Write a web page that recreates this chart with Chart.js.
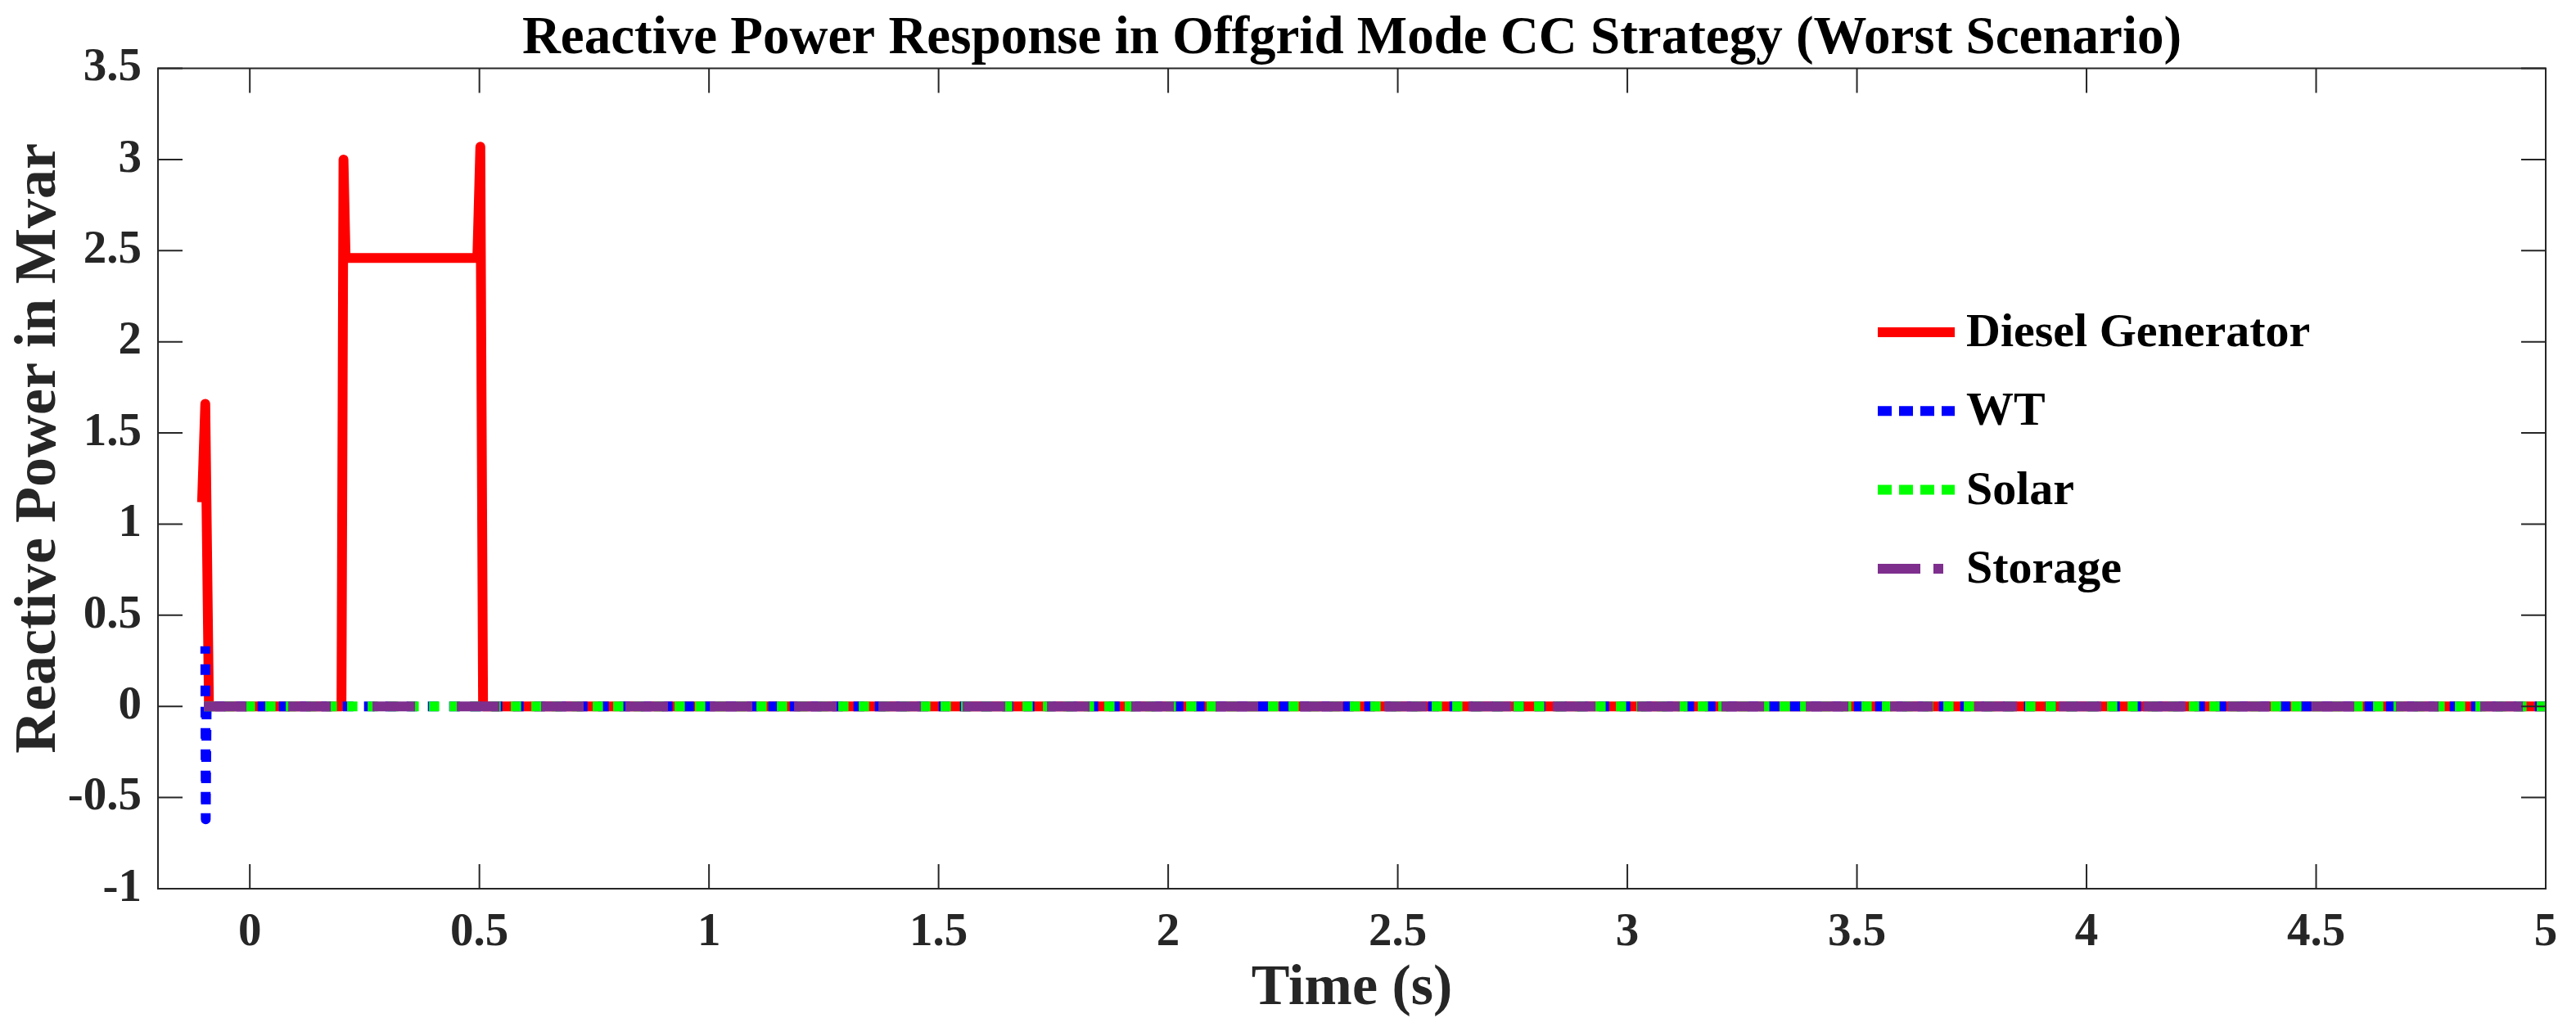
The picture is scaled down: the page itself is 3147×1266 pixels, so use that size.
<!DOCTYPE html>
<html>
<head>
<meta charset="utf-8">
<script src="https://cdn.jsdelivr.net/npm/chart.js@4.4.0/dist/chart.umd.min.js"></script>
<style>
  html, body { margin: 0; padding: 0; background: #fff; }
  canvas { display: block; }
</style>
</head>
<body>
<canvas id="chart" width="3147" height="1266"></canvas>
<script>
// values: time in s, reactive power in Mvar
var dieselTime  = [-0.104, -0.097, -0.089, 0.1996, 0.204, 0.2086, 0.4955, 0.502, 0.508, 5.0];
var dieselValue = [1.12, 1.66, 0, 0, 3.0, 2.46, 2.46, 3.07, 0, 0];
var wtTime  = [-0.097, -0.096, -0.094, 5.0];
var wtValue = [0.33, -0.62, 0, 0];
var solarTime  = [-0.1, 5.0];
var solarValue = [0, 0];
var storageTime  = [-0.1, 5.0];
var storageValue = [0, 0];

var seriesNames = ['Diesel Generator', 'WT', 'Solar', 'Storage'];
var xTicks = [0, 0.5, 1, 1.5, 2, 2.5, 3, 3.5, 4, 4.5, 5];
var yTicks = [-1, -0.5, 0, 0.5, 1, 1.5, 2, 2.5, 3, 3.5];

function pairs(xs, ys){
    var out = [];
    for(var i = 0; i < xs.length; i++){
        out.push({x: xs[i], y: ys[i]});
    }
    return out;
}

var axis_color = '#262626';
var serif = 'Liberation Serif';

// box round the axes, inward ticks (matlab style), ylabel and the legend
var frame_plugin = {
    id: 'frame',
    afterDraw: function(chart){
        var ctx = chart.ctx;
        var a = chart.chartArea;
        var xs = chart.scales.x, ys = chart.scales.y;
        ctx.save();
        ctx.strokeStyle = axis_color;
        ctx.lineWidth = 2;
        ctx.setLineDash([]);
        ctx.strokeRect(a.left, a.top, a.right - a.left, a.bottom - a.top);
        ctx.beginPath();
        xTicks.forEach(function(v){
            var px = xs.getPixelForValue(v);
            ctx.moveTo(px, a.bottom); ctx.lineTo(px, a.bottom - 30);
            ctx.moveTo(px, a.top);    ctx.lineTo(px, a.top + 30);
        });
        yTicks.forEach(function(v){
            var py = ys.getPixelForValue(v);
            ctx.moveTo(a.left, py);  ctx.lineTo(a.left + 30, py);
            ctx.moveTo(a.right, py); ctx.lineTo(a.right - 30, py);
        });
        ctx.stroke();

        // ylabel sits a bit above the axis centre in the original
        ctx.save();
        ctx.translate(48, 548);
        ctx.rotate(-Math.PI / 2);
        ctx.font = 'bold 72px "' + serif + '"';
        ctx.fillStyle = axis_color;
        ctx.textAlign = 'center';
        ctx.textBaseline = 'middle';
        ctx.fillText('Reactive Power in Mvar', 0, 0);
        ctx.restore();

        // legend (no box), inside the axes on the right
        var legend_dash = [[], [17, 9], [17, 9], [52, 16, 12, 16]];
        var lx = 2294, ly = 406, row = 96.3;
        ctx.font = 'bold 58px "' + serif + '"';
        ctx.textBaseline = 'middle';
        ctx.textAlign = 'left';
        chart.data.datasets.forEach(function(ds, i){
            var y = ly + i * row;
            ctx.beginPath();
            ctx.strokeStyle = ds.borderColor;
            ctx.lineWidth = 12;
            ctx.lineCap = 'butt';
            ctx.setLineDash(legend_dash[i]);
            ctx.moveTo(lx, y);
            ctx.lineTo(lx + 94, y);
            ctx.stroke();
            ctx.fillStyle = '#000';
            ctx.fillText(ds.label, lx + 108, y + 2);
        });
        ctx.restore();
    }
};

var context = document.getElementById('chart').getContext('2d');
var myChart = new Chart(context, {
    type: 'line',
    data: {
        datasets: [{
            label: seriesNames[0],
            data: pairs(dieselTime, dieselValue),
            borderColor: '#ff0000',
            borderWidth: 12,
            order: 4
        }, {
            label: seriesNames[1],
            data: pairs(wtTime, wtValue),
            borderColor: '#0000ff',
            borderWidth: 12,
            borderDash: [13, 13],
            borderDashOffset: 4,
            order: 3
        }, {
            label: seriesNames[2],
            data: pairs(solarTime, solarValue),
            borderColor: '#00ff00',
            borderWidth: 12,
            borderDash: [12.5, 12.5],
            order: 2
        }, {
            label: seriesNames[3],
            data: pairs(storageTime, storageValue),
            borderColor: '#7e2f8e',
            borderWidth: 12,
            borderDash: [52, 51],
            order: 1
        }]
    },
    options: {
        responsive: false,
        animation: false,
        devicePixelRatio: 1,
        elements: {
            point: { radius: 0, hoverRadius: 0 },
            line: { tension: 0, borderCapStyle: 'butt', borderJoinStyle: 'round', fill: false }
        },
        layout: { padding: { left: 0, right: 37, top: 0, bottom: 0 } },
        plugins: {
            legend: { display: false },
            tooltip: { enabled: false },
            title: {
                display: true,
                fullSize: false,
                text: 'Reactive Power Response in Offgrid Mode CC Strategy (Worst Scenario)',
                color: '#000',
                font: { family: serif, size: 65, weight: 'bold', lineHeight: 1.1 },
                padding: { top: 12, bottom: 0 }
            }
        },
        scales: {
            x: {
                type: 'linear',
                min: -0.2,
                max: 5,
                afterBuildTicks: function(s){ s.ticks = xTicks.map(function(v){ return {value: v}; }); },
                afterFit: function(s){ s.height = 180; },
                grid: { display: false, drawTicks: false },
                border: { display: false },
                ticks: {
                    padding: 20,
                    color: axis_color,
                    maxRotation: 0,
                    autoSkip: false,
                    font: { family: serif, size: 57, weight: 'bold' },
                    callback: function(v){ return String(v); }
                },
                title: {
                    display: true,
                    text: 'Time (s)',
                    color: axis_color,
                    font: { family: serif, size: 70, weight: 'bold' },
                    padding: { top: 0, bottom: 15 }
                }
            },
            y: {
                type: 'linear',
                min: -1,
                max: 3.5,
                afterBuildTicks: function(s){ s.ticks = yTicks.map(function(v){ return {value: v}; }); },
                afterFit: function(s){ s.width = 193; },
                grid: { display: false, drawTicks: false },
                border: { display: false },
                ticks: {
                    padding: 20,
                    color: axis_color,
                    autoSkip: false,
                    font: { family: serif, size: 57, weight: 'bold' },
                    callback: function(v){ return String(v); }
                },
                title: { display: false }
            }
        }
    },
    plugins: [frame_plugin]
});
</script>
</body>
</html>
